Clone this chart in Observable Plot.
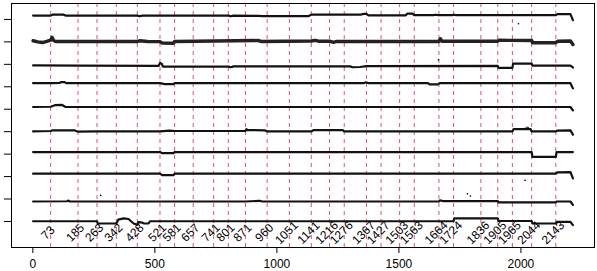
<!DOCTYPE html>
<html>
<head>
<meta charset="utf-8">
<script src="https://cdn.jsdelivr.net/npm/d3@7"></script>
<script src="https://cdn.jsdelivr.net/npm/@observablehq/plot@0.6"></script>
<style>
  html, body { margin: 0; padding: 0; background: #fff; }
  svg { display: block; font-family: "Liberation Sans", Arial, sans-serif; }
</style>
</head>
<body>
<div id="chart"></div>
<script>
// Segment boundaries (red dashed lines) and their labels
const boundaries = [73,185,263,342,428,521,581,657,741,801,871,960,1051,1141,1216,1276,1367,1427,1503,1563,1664,1724,1836,1905,1965,2044,2143];
const xTicks = [0, 500, 1000, 1500, 2000];
const yTicks = [1, 2, 3, 4, 5, 6, 7, 8, 9, 10];

// Tracks, top to bottom: [position, value]
const track1 = [[1,10.17],[73,10.17],[80,10.21],[126,10.21],[134,10.17],[429,10.17],[437,10.14],[449,10.17],[802,10.17],[810,10.14],[822,10.17],[925,10.16],[941,10.15],[1130,10.15],[1141,10.21],[1343,10.21],[1355,10.25],[1367,10.25],[1375,10.18],[1527,10.18],[1535,10.26],[1556,10.26],[1563,10.19],[1642,10.19],[1650,10.21],[1660,10.19],[1719,10.19],[1725,10.21],[1735,10.19],[2143,10.19],[2150,10.24],[2203,10.24],[2208,10.1],[2213,9.97]];
const track2 = [[1,9.05],[20,9.0],[40,8.97],[60,9.03],[73,9.08],[79,9.2],[85,9.06],[93,9.02],[429,9.02],[437,9.05],[470,9.02],[521,9.01],[530,8.95],[576,8.94],[581,9.02],[925,9.06],[935,9.02],[1141,9.04],[1158,9.07],[1170,9.03],[1216,9.03],[1232,8.98],[1245,9.02],[1664,9.02],[1670,9.14],[1676,9.03],[1905,9.03],[1910,9.07],[2044,9.06],[2048,8.96],[2143,8.96],[2150,9.03],[2203,9.04],[2213,8.88]];
const track3 = [[1,7.95],[190,7.94],[515,7.93],[521,8.06],[528,8.03],[533,7.9],[581,7.9],[802,7.9],[812,7.87],[822,7.91],[1300,7.91],[1310,7.87],[1340,7.88],[1367,7.92],[1905,7.93],[1908,7.84],[1965,7.84],[1968,8.03],[2044,8.03],[2047,7.94],[2203,7.94],[2213,7.86]];
const track4 = [[1,7.16],[73,7.16],[110,7.17],[115,7.21],[130,7.21],[137,7.16],[521,7.16],[540,7.12],[576,7.12],[581,7.16],[1355,7.16],[1365,7.2],[1375,7.16],[1620,7.16],[1625,7.11],[1660,7.11],[1667,7.16],[2203,7.16],[2213,6.93]];
const track5 = [[1,6.1],[73,6.11],[90,6.18],[120,6.19],[134,6.1],[2203,6.1],[2213,5.95]];
const track6 = [[1,5.01],[73,5.03],[80,5.06],[170,5.06],[185,5.0],[263,5.01],[521,5.01],[560,5.05],[581,5.03],[871,5.03],[875,5.11],[880,5.07],[950,5.06],[960,5.01],[1141,5.01],[1150,5.07],[1270,5.07],[1276,5.01],[1965,5.01],[1970,5.12],[2040,5.11],[2044,5.01],[2143,5.01],[2150,5.05],[2203,5.06],[2213,4.87]];
const track7 = [[1,4.09],[521,4.09],[530,4.04],[576,4.04],[581,4.09],[2044,4.09],[2047,3.88],[2143,3.88],[2146,4.09],[2213,4.09]];
const track8 = [[1,3.13],[521,3.13],[530,3.06],[576,3.06],[581,3.13],[2143,3.13],[2150,3.19],[2203,3.2],[2213,2.92]];
const track9 = [[1,1.89],[140,1.9],[146,1.93],[152,1.89],[871,1.89],[930,1.92],[940,1.89],[1664,1.89],[1668,1.94],[1680,1.91],[1905,1.91],[1908,1.85],[2143,1.85],[2146,1.89],[2203,1.89],[2213,1.74]];
const track10 = [[1,1.01],[263,1.01],[266,0.91],[342,0.91],[350,1.08],[372,1.14],[392,1.11],[413,0.91],[428,0.85],[432,0.97],[449,0.95],[455,0.91],[474,0.91],[480,1.01],[1724,1.01],[1727,1.14],[1905,1.14],[1908,1.02],[2044,1.02],[2047,0.91],[2143,0.91],[2146,0.98],[2203,0.98],[2213,0.84]];

// Scattered stray points
const strays = [[1990,9.81],[1662,8.2],[1781,2.23],[1793,2.13],[2017,5.15],[2025,5.2],[2030,5.17],[2017,2.83],[278,2.16]];

const quietTracks = [track1, track3, track4, track5, track6, track7, track8, track9, track10];

const chart = Plot.plot({
  width: 597,
  height: 271,
  marginLeft: 11,
  marginRight: 3,
  marginTop: 3,
  marginBottom: 24,
  style: { fontFamily: "'Liberation Sans', Arial, sans-serif", fontSize: "12px", color: "#000", background: "#fff" },
  x: { domain: [-87.5, 2301.5] },
  y: { domain: [-0.16, 10.71] },
  marks: [
    Plot.ruleX(boundaries, { x: d => d, stroke: "#DF536B", strokeWidth: 1, strokeDasharray: "4,4" }),
    ...quietTracks.map(t => Plot.line(t, { x: d => d[0], y: d => d[1], stroke: "#111", strokeWidth: 2.2 })),
    Plot.line(track2, { x: d => d[0], y: d => d[1], stroke: "#222", strokeWidth: 3.4 }),
    Plot.dot(strays, { x: d => d[0], y: d => d[1], r: 0.8, fill: "#000" }),
    Plot.text(boundaries, { x: d => d, text: d => String(d), frameAnchor: "bottom", dy: -12, rotate: -45, textAnchor: "middle", fontSize: 12, fill: "#000" }),
    Plot.axisY({ ticks: yTicks, tickFormat: () => "", tickSize: 7, stroke: "#000" }),
    Plot.axisX({ ticks: xTicks, tickFormat: d => String(d), tickSize: 6, tickPadding: 6, stroke: "#000", fontSize: 12 }),
    Plot.frame({ stroke: "#000" })
  ]
});
document.getElementById("chart").appendChild(chart);
</script>
</body>
</html>
